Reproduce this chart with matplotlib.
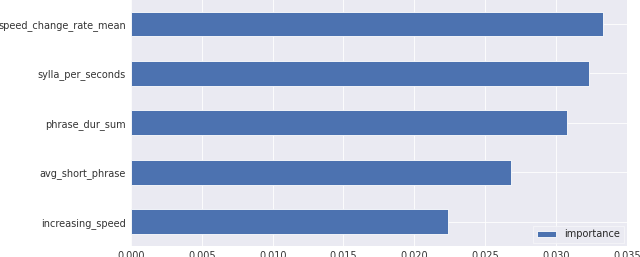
import matplotlib
matplotlib.use("Agg")
import matplotlib.pyplot as plt
import pandas as pd

# feature importances, bottom bar first
features = ["increasing_speed", "avg_short_phrase", "phrase_dur_sum",
            "sylla_per_seconds", "speed_change_rate_mean"]
importance = [0.02238, 0.02685, 0.0308, 0.03237, 0.0333]
x_ticks = [0.000, 0.005, 0.010, 0.015, 0.020, 0.025, 0.030, 0.035]

plt.style.use("seaborn-v0_8-darkgrid")
plt.rcParams["font.family"] = ["DejaVu Sans"]
plt.rcParams["grid.linewidth"] = 0.6

df = pd.DataFrame({"importance": importance}, index=features)

fig = plt.figure(figsize=(6.4, 2.57), dpi=100)
ax = fig.add_axes([131 / 640, 10.7 / 257, 495.7 / 640, 247 / 257])

df.plot.barh(ax=ax, color="#4C72B0", edgecolor="white", linewidth=0.6)

ax.set_xlim(0, 0.035)
ax.set_xticks(x_ticks)
ax.set_xticklabels([f"{t:.3f}" for t in x_ticks])
ax.tick_params(axis="both", labelsize=7.0, colors="#333333", length=0, pad=3.5)
ax.set_ylabel("")

leg = ax.legend(loc="lower right", fontsize=7.0, frameon=True,
                facecolor="#EAEAF2", edgecolor="#F6F6F9", fancybox=False,
                borderaxespad=0.3)
leg.get_frame().set_linewidth(0.8)

fig.savefig("out.png", dpi=100)
